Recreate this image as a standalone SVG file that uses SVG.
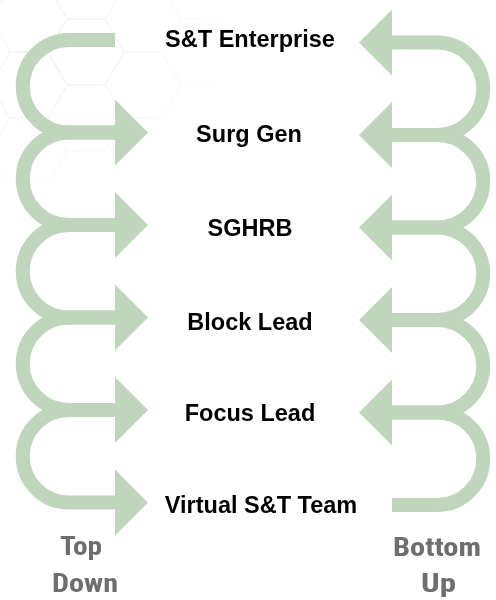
<svg xmlns="http://www.w3.org/2000/svg" xmlns:xlink="http://www.w3.org/1999/xlink" width="496" height="600" viewBox="0 0 496 600">
  <style>
    .flow { fill: none; stroke: #bfd6bc; stroke-width: 14; }
    .head { fill: #bfd6bc; }
    .label { font-family: "Liberation Sans", Arial, Helvetica, sans-serif; font-weight: bold; font-size: 23.5px; fill: #000; text-anchor: middle; }
    .dir { font-family: "Liberation Sans Narrow", "Roboto Condensed", "Liberation Sans", Arial, sans-serif; font-weight: bold; font-size: 26px; fill: #6e6e6e; text-anchor: middle; }
    .hex { fill: none; stroke: #f1f5f1; stroke-width: 1.5; }
  </style>
  <defs>
    <!-- flat-top hexagon, radius 38 -->
    <polygon id="hx" points="38,0 19,32.9 -19,32.9 -38,0 -19,-32.9 19,-32.9"/>
    <radialGradient id="fade" cx="60" cy="50" r="190" gradientUnits="userSpaceOnUse">
      <stop offset="0" stop-color="#fff" stop-opacity="1"/>
      <stop offset="1" stop-color="#fff" stop-opacity="0"/>
    </radialGradient>
    <mask id="hexmask" maskUnits="userSpaceOnUse" x="0" y="0" width="496" height="600">
      <rect x="0" y="0" width="496" height="600" fill="url(#fade)"/>
    </mask>
  </defs>

  <rect width="496" height="600" fill="#fff"/>

  <!-- faint honeycomb backdrop -->
  <g id="backdrop" class="hex" mask="url(#hexmask)">
    <use xlink:href="#hx" x="29" y="19.2"/>
    <use xlink:href="#hx" x="29" y="85"/>
    <use xlink:href="#hx" x="29" y="150.8"/>
    <use xlink:href="#hx" x="86" y="-13.9"/>
    <use xlink:href="#hx" x="86" y="52"/>
    <use xlink:href="#hx" x="86" y="117.9"/>
    <use xlink:href="#hx" x="143" y="19.2"/>
    <use xlink:href="#hx" x="143" y="85"/>
    <use xlink:href="#hx" x="200" y="-13.9"/>
    <use xlink:href="#hx" x="200" y="52"/>
  </g>

  <g id="connectors">
    <!-- top-down loops on the left -->
    <path class="flow" d="M115 40 H69 A46.25 46.25 0 0 0 69 132.5 H116"/>
    <path class="flow" d="M115 132.5 H69 A46.25 46.25 0 0 0 69 225 H116"/>
    <path class="flow" d="M115 225 H69 A46.25 46.25 0 0 0 69 317.5 H116"/>
    <path class="flow" d="M115 317.5 H69 A46.25 46.25 0 0 0 69 410 H116"/>
    <path class="flow" d="M115 410 H69 A46.25 46.25 0 0 0 69 502.5 H116"/>
    <polygon class="head" points="115,99.5 148,132.5 115,165.5"/>
    <polygon class="head" points="115,192 148,225 115,258"/>
    <polygon class="head" points="115,284.5 148,317.5 115,350.5"/>
    <polygon class="head" points="115,377 148,410 115,443"/>
    <polygon class="head" points="115,469.5 148,502.5 115,535.5"/>

    <!-- bottom-up loops on the right -->
    <path class="flow" d="M392 505 H437 A46.25 46.25 0 0 0 437 412.5 H391"/>
    <path class="flow" d="M392 412.5 H437 A46.25 46.25 0 0 0 437 320 H391"/>
    <path class="flow" d="M392 320 H437 A46.25 46.25 0 0 0 437 227.5 H391"/>
    <path class="flow" d="M392 227.5 H437 A46.25 46.25 0 0 0 437 135 H391"/>
    <path class="flow" d="M392 135 H437 A46.25 46.25 0 0 0 437 42.5 H391"/>
    <polygon class="head" points="392,379.5 359,412.5 392,445.5"/>
    <polygon class="head" points="392,287 359,320 392,353"/>
    <polygon class="head" points="392,194.5 359,227.5 392,260.5"/>
    <polygon class="head" points="392,102 359,135 392,168"/>
    <polygon class="head" points="392,9.5 359,42.5 392,75.5"/>
  </g>

  <g id="st-enterprise"><text class="label" x="250" y="47">S&amp;T Enterprise</text></g>
  <g id="surg-gen"><text class="label" x="249" y="142">Surg Gen</text></g>
  <g id="sghrb"><text class="label" x="250" y="236">SGHRB</text></g>
  <g id="block-lead"><text class="label" x="250" y="330">Block Lead</text></g>
  <g id="focus-lead"><text class="label" x="250" y="421">Focus Lead</text></g>
  <g id="virtual-team"><text class="label" x="261" y="513">Virtual S&amp;T Team</text></g>

  <g id="top-down">
    <text class="dir" x="81" y="555" textLength="42" lengthAdjust="spacingAndGlyphs">Top</text>
    <text class="dir" x="85" y="592" textLength="66" lengthAdjust="spacingAndGlyphs">Down</text>
  </g>
  <g id="bottom-up">
    <text class="dir" x="437" y="556" textLength="88" lengthAdjust="spacingAndGlyphs">Bottom</text>
    <text class="dir" x="438.5" y="592" textLength="35" lengthAdjust="spacingAndGlyphs">Up</text>
  </g>
</svg>
